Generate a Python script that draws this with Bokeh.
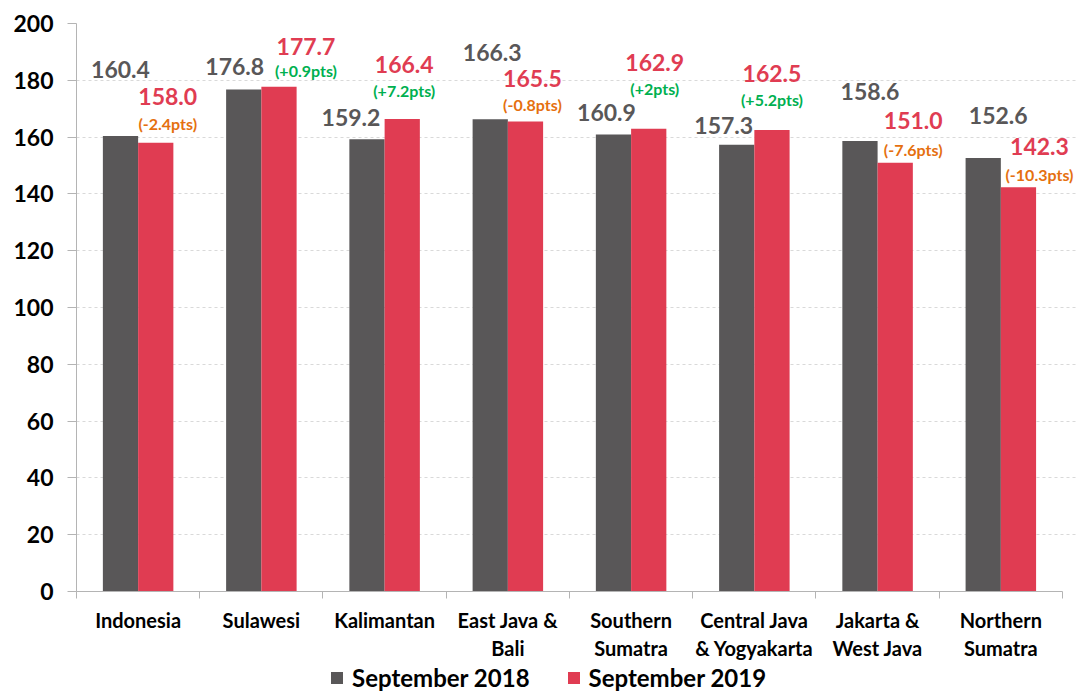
from bokeh.plotting import figure
from bokeh.layouts import column
from bokeh.models import (ColumnDataSource, Range1d, FixedTicker, Legend, LegendItem)
from bokeh.core.properties import value
from bokeh.embed import file_html
from bokeh.resources import INLINE

categories = ["Indonesia", "Sulawesi", "Kalimantan", "East Java &\nBali", "Southern\nSumatra",
              "Central Java\n& Yogyakarta", "Jakarta &\nWest Java", "Northern\nSumatra"]
sep2018 = [160.4, 176.8, 159.2, 166.3, 160.9, 157.3, 158.6, 152.6]
sep2019 = [158.0, 177.7, 166.4, 165.5, 162.9, 162.5, 151.0, 142.3]
changes = ["(-2.4pts)", "(+0.9pts)", "(+7.2pts)", "(-0.8pts)", "(+2pts)", "(+5.2pts)", "(-7.6pts)", "(-10.3pts)"]
series_names = ["September 2018", "September 2019"]
y_ticks = [0, 20, 40, 60, 80, 100, 120, 140, 160, 180, 200]

# label placement (screen px, styling only)
g_dx = [0, -9, -16, 2, -7, -13, 10, 15]
g_dy = [-66, -23, -22, -67, -22, -19, -50, -43]
r_dx = [12, 27, 2, 7, 6, 0, 18, 21]
r_dy = [-46, -40, -54, -43, -66, -57, -42, -41]
c_dy = [-19, -16, -28, -17, -40, -31, -13, -13]

GRAY = "#595758"
RED = "#E03C52"
GREEN = "#00B050"
ORANGE = "#E5700F"
FONT = "Lato"

n = len(categories)
centers = [i + 0.5 for i in range(n)]
half = 0.143
bw = 0.286

src = ColumnDataSource(dict(
    xg=[c - half for c in centers], xr=[c + half for c in centers],
    g=sep2018, r=sep2019,
    gt=[f"{v:.1f}" for v in sep2018], rt=[f"{v:.1f}" for v in sep2019],
    ct=changes,
    ccol=[GREEN if s.startswith("(+") else ORANGE for s in changes],
    g_dx=g_dx, g_dy=g_dy, r_dx=r_dx, r_dy=r_dy, c_dy=c_dy,
))

p = figure(width=1077, height=663, output_backend="svg", toolbar_location=None,
           x_range=Range1d(0, n + 0.122), y_range=Range1d(0, 200),
           min_border_left=76, min_border_right=0, min_border_top=23, min_border_bottom=72)
p.outline_line_color = None
p.background_fill_color = "white"

p.vbar(x="xg", top="g", width=bw, source=src, fill_color=GRAY, line_color=None)
p.vbar(x="xr", top="r", width=bw, source=src, fill_color=RED, line_color=None)

p.text(x="xg", y="g", text="gt", source=src, x_offset="g_dx", y_offset="g_dy",
       text_align="center", text_baseline="middle", text_color=GRAY,
       text_font=value(FONT), text_font_style="bold", text_font_size="23px")
p.text(x="xr", y="r", text="rt", source=src, x_offset="r_dx", y_offset="r_dy",
       text_align="center", text_baseline="middle", text_color=RED,
       text_font=value(FONT), text_font_style="bold", text_font_size="23px")
p.text(x="xr", y="r", text="ct", source=src, x_offset="r_dx", y_offset="c_dy",
       text_align="center", text_baseline="middle", text_color="ccol",
       text_font=value(FONT), text_font_style="bold", text_font_size="16px")

# axes
p.xaxis.ticker = FixedTicker(ticks=centers, minor_ticks=list(range(n + 1)))
p.xaxis.bounds = (0, n)
p.xaxis.major_label_overrides = {c: lab for c, lab in zip(centers, categories)}
p.xaxis.major_tick_line_color = None
p.xaxis.major_tick_out = 0
p.xaxis.major_tick_in = 0
p.xaxis.minor_tick_out = 7
p.xaxis.minor_tick_in = 0
p.xaxis.minor_tick_line_color = "#B4B4B4"
p.xaxis.axis_line_color = "#B4B4B4"
p.xaxis.major_label_standoff = 9
p.xaxis.major_label_text_font = FONT
p.xaxis.major_label_text_font_style = "bold"
p.xaxis.major_label_text_font_size = "20px"
p.xaxis.major_label_text_color = "black"

p.yaxis.ticker = FixedTicker(ticks=y_ticks)
p.yaxis.minor_tick_line_color = None
p.yaxis.major_tick_out = 9
p.yaxis.major_tick_in = 0
p.yaxis.major_tick_line_color = "#B4B4B4"
p.yaxis.axis_line_color = "#B4B4B4"
p.yaxis.major_label_standoff = 14
p.yaxis.major_label_text_font = FONT
p.yaxis.major_label_text_font_style = "bold"
p.yaxis.major_label_text_font_size = "23px"
p.yaxis.major_label_text_color = "black"

p.xgrid.grid_line_color = None
p.ygrid.grid_line_color = "#D9D9D9"
p.ygrid.grid_line_dash = "3 3"
p.ygrid.bounds = (0, n)

# legend strip below the chart (its frame is aligned with the chart's frame)
LH = 29
p2 = figure(width=1077, height=LH, output_backend="svg", toolbar_location=None,
            x_range=Range1d(0, 1000), y_range=Range1d(0, LH),
            x_axis_type=None, y_axis_type=None, min_border=0)
p2.outline_line_color = None
p2.xgrid.grid_line_color = None
p2.ygrid.grid_line_color = None
# zero-height off-screen proxies that only supply the legend swatches
lg = p2.vbar(x=[-5000], top=[0], width=1, fill_color=GRAY, line_color=None)
lr = p2.vbar(x=[-5000], top=[0], width=1, fill_color=RED, line_color=None)

legend = Legend(items=[LegendItem(label=series_names[0], renderers=[lg]),
                       LegendItem(label=series_names[1], renderers=[lr])],
                orientation="horizontal", location=(253, 0))
legend.border_line_color = None
legend.background_fill_alpha = 0
legend.padding = 0
legend.margin = 0
legend.spacing = 36
legend.glyph_width = 15
legend.glyph_height = 15
legend.label_standoff = 8
legend.label_text_font = FONT
legend.label_text_font_style = "bold"
legend.label_text_font_size = "24px"
legend.label_text_color = "black"
p2.add_layout(legend, "center")

layout = column(p, p2, spacing=0)
open("out.html", "w").write(file_html(layout, INLINE))
